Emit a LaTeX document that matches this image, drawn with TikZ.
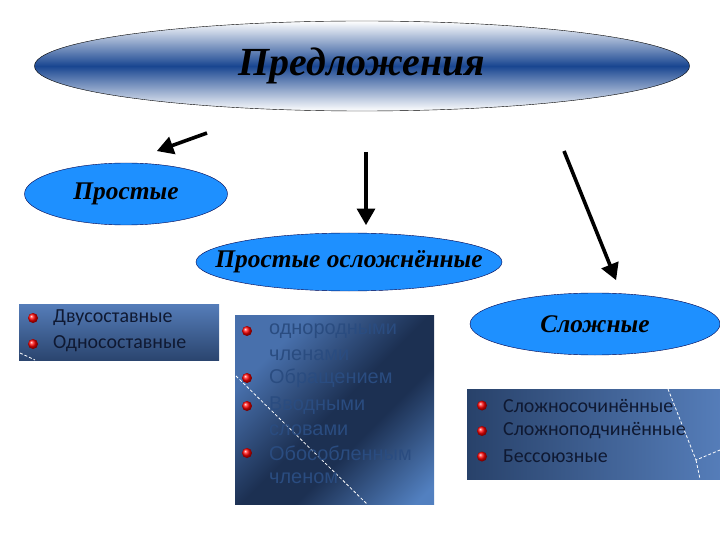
\documentclass[tikz,border=0pt]{standalone}
\usepackage{fontspec}
\setmainfont{Liberation Serif}
\newfontfamily\listfont{Carlito}
\newfontfamily\plainfont{Liberation Sans}
\usetikzlibrary{arrows,positioning,shapes.geometric}

\definecolor{ovalblue}{RGB}{30,144,255}
\definecolor{titleblue}{RGB}{25,70,145}
\definecolor{boxlight}{RGB}{85,125,185}
\definecolor{boxdark}{RGB}{32,55,92}
\definecolor{midlight}{RGB}{72,112,172}
\definecolor{middark}{RGB}{28,48,82}
\definecolor{midend}{RGB}{82,128,192}
\definecolor{listink}{RGB}{15,25,50}
\definecolor{fadeink}{RGB}{42,76,128}

\pgfdeclarehorizontalshading{midpanel}{100bp}{color(0bp)=(midlight); color(28bp)=(midlight);
  color(50bp)=(middark); color(60bp)=(middark); color(82bp)=(midend); color(100bp)=(midend)}

\tikzset{
  oval/.style={ellipse,draw=black!70!blue,fill=ovalblue,inner ysep=0pt,inner xsep=-28bp,
               font=\bfseries\itshape\fontsize{25.5}{28}\selectfont},
  link/.style={->,>=triangle 60,line width=3.6bp},
  panel/.style={rectangle,inner sep=0pt,anchor=north west},
  dot/.style={circle,ball color=red,minimum size=10bp,inner sep=0pt},
  item/.style={anchor=west,inner sep=0pt,text=listink,
               font=\listfont\fontsize{20}{22}\selectfont},
  faded/.style={anchor=west,inner sep=0pt,text=fadeink,
               font=\plainfont\fontsize{20}{22}\selectfont},
  scratch/.style={white,densely dashed,line width=0.8bp}
}

\begin{document}
\begin{tikzpicture}[x=1bp,y=-1bp]
\useasboundingbox (0,0) rectangle (720,540);

% ovals
\node[ellipse,draw=black,top color=white,bottom color=white,middle color=titleblue,
      minimum width=655bp,minimum height=90bp,inner sep=0pt,
      font=\bfseries\itshape\fontsize{40}{44}\selectfont] (sent) at (362,66) {Предложения};
\node[oval,minimum width=203bp,minimum height=62bp] (simple) at (126,194) {Простые};
\node[oval,minimum width=306bp,minimum height=58bp] (compl) at (349,262) {Простые осложнённые};
\node[oval,minimum width=250bp,minimum height=62bp] (complex) at (595,324) {Сложные};

% arrows
\coordinate (l0) at (207,133); \coordinate (l1) at (157,151);
\coordinate (m0) at (366,152); \coordinate (m1) at (366,225);
\coordinate (r0) at (564,151); \coordinate (r1) at (616,280);
\draw[link] (l0) -- (l1);
\draw[link] (m0) -- (m1);
\draw[link] (r0) -- (r1);

% panels
\node[panel,minimum width=200bp,minimum height=56bp,
      top color=boxlight,bottom color=boxdark!80!boxlight] (leftbox) at (19,304) {};
\node[panel,minimum width=199bp,minimum height=189bp,
      shading=midpanel,shading angle=-45] (midbox) at (235,315) {};
\node[panel,minimum width=253bp,minimum height=90bp,
      left color=boxdark!85!boxlight,right color=boxlight] (rightbox) at (467,389) {};

% scratches
\draw[scratch] (20,353) -- (35,360);
\draw[scratch] (236,376) -- (367,504);
\draw[scratch] (668,389) -- (696,460) -- (720,450);
\draw[scratch] (696,460) -- (700,479);

% lists
\foreach \t [count=\i] in {Двусоставные,Односоставные}{
  \node[dot] (lb\i) at (33,{292+26*\i}) {};
  \node[item] (lt\i) at (53,{292+26*\i}) {\t};
}
\foreach \t [count=\i] in {Сложносочинённые,Сложноподчинённые,Бессоюзные}{
  \node[dot] (rb\i) at (482,{380+25.5*\i}) {};
  \node[item] (rt\i) at (503,{380+25.5*\i}) {\t};
}
\foreach \t/\y [count=\i] in {однородными/331,членами/355,Обращением/378,Вводными/406,
                             словами/430,Обособленным/453,членом/478}{
  \node[faded] (mt\i) at (269,\y) {\t};
}
\foreach \y [count=\i] in {331,378,406,453}{
  \node[dot] (mb\i) at (247,\y) {};
}

\end{tikzpicture}
\end{document}
